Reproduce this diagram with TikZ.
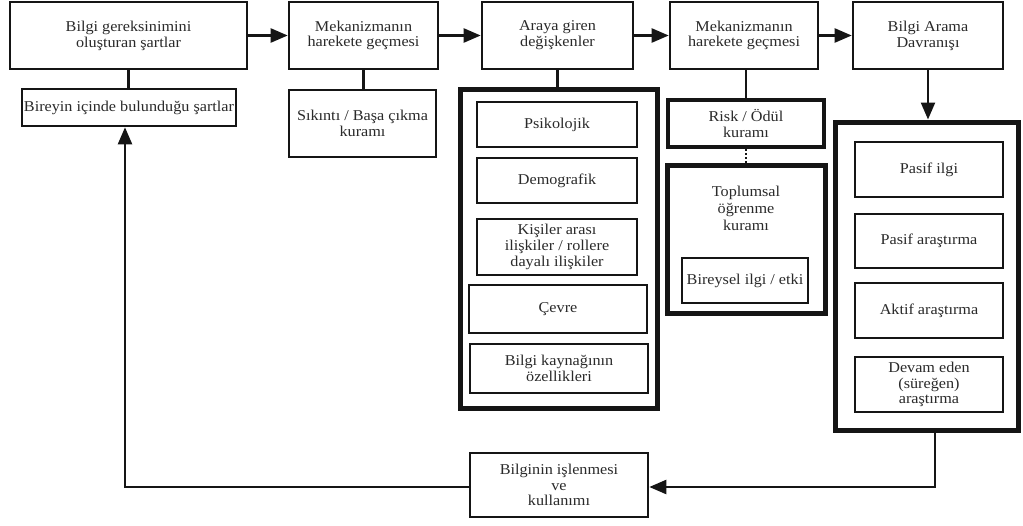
\documentclass[tikz,border=0pt]{standalone}
\usepackage{fontspec}
\setmainfont{Liberation Serif}[FakeStretch=1.08]
\usetikzlibrary{arrows.meta,positioning}
\definecolor{ink}{HTML}{151515}
\definecolor{txt}{HTML}{2A2A2A}
\tikzset{
  box/.style={draw=ink, line width=2.6pt, fill=white, inner sep=1pt, align=center,
    text=txt, font=\fontsize{15}{15.8}\selectfont},
  heavybox/.style={box, line width=5pt},
  midbox/.style={box, line width=4.5pt},
  link/.style={draw=ink, line width=2.3pt},
  flow/.style={link, -{Triangle[length=17pt,width=14pt]}},
}
\begin{document}
\begin{tikzpicture}[x=1pt,y=-1pt]
\useasboundingbox (0,0) rectangle (1023,525);

% top row: main stages
\node[box, minimum width=237, minimum height=67] (need) at (128.5,35.5) {Bilgi gereksinimini\\oluşturan şartlar};
\node[box, minimum width=149, minimum height=67] (mech1) at (363.5,35.5) {Mekanizmanın\\harekete geçmesi};
\node[box, minimum width=151, minimum height=67] (vars) at (557.5,35.5) {Araya giren\\değişkenler};
\node[box, minimum width=148, minimum height=67] (mech2) at (744,35.5) {Mekanizmanın\\harekete geçmesi};
\node[box, minimum width=150, minimum height=67] (seek) at (928,35.5) {Bilgi Arama\\Davranışı};

% context and theory boxes below the stages
\node[box, minimum width=214, minimum height=37] (ctx) at (129,107.5) {Bireyin içinde bulunduğu şartlar};
\node[box, minimum width=147, minimum height=67] (stress) at (362.5,123.5) {Sıkıntı / Başa çıkma\\kuramı};

% intervening variables group
\node[heavybox, minimum width=197, minimum height=319] (grpvars) at (558.5,248.5) {};
\node[box, minimum width=160, minimum height=45] (psy) at (557,124.5) {Psikolojik};
\node[box, minimum width=160, minimum height=45] (demo) at (557,180.5) {Demografik};
\node[box, minimum width=160, minimum height=56] (inter) at (557,247) {Kişiler arası\\ilişkiler / rollere\\dayalı ilişkiler};
\node[box, minimum width=178, minimum height=48] (env) at (558,309) {Çevre};
\node[box, minimum width=178, minimum height=49] (src) at (559,368.5) {Bilgi kaynağının\\özellikleri};

% risk/reward and social learning theories
\node[midbox, minimum width=156, minimum height=47] (risk) at (746,123.5) {Risk / Ödül\\kuramı};
\node[heavybox, minimum width=158, minimum height=148] (social) at (746,239) {};
\node[align=center, text=txt, font=\fontsize{15}{17}\selectfont] (sociallbl) at (746,208) {Toplumsal\\öğrenme\\kuramı};
\node[box, minimum width=126, minimum height=45] (indiv) at (745,280.5) {Bireysel ilgi / etki};

% information seeking modes
\node[heavybox, minimum width=183, minimum height=308] (grpseek) at (926.5,276) {};
\node[box, minimum width=148, minimum height=55] (pasilgi) at (929,169.5) {Pasif ilgi};
\node[box, minimum width=148, minimum height=54] (pasar) at (929,241) {Pasif araştırma};
\node[box, minimum width=148, minimum height=55] (aktif) at (929,310.5) {Aktif araştırma};
\node[box, minimum width=148, minimum height=55] (devam) at (929,384.5) {Devam eden\\(süreğen)\\araştırma};

% processing and use
\node[box, minimum width=178, minimum height=64] (proc) at (559,485) {Bilginin işlenmesi\\ve\\kullanımı};

% main flow
\draw[flow] (need) -- (mech1);
\draw[flow] (mech1) -- (vars);
\draw[flow] (vars) -- (mech2);
\draw[flow] (mech2) -- (seek);

% attachments (vertical stems)
\draw[link] (need.south) -- (need.south |- ctx.north);
\draw[link] (mech1.south) -- (mech1.south |- stress.north);
\draw[link] (vars.south) -- (vars.south |- grpvars.north);
\draw[link] (risk.north |- mech2.south) -- (risk.north);
\draw[draw=ink, line width=2.4pt, dash pattern=on 2pt off 2pt] (risk.south) -- (social.north);
\draw[flow] (seek.south) -- (seek.south |- grpseek.north);

% feedback loop
\coordinate (dn) at (935,487);
\coordinate (lf) at (125,487);
\draw[flow] (grpseek.south -| dn) -- (dn) -- (proc.east |- dn);
\draw[flow] (proc.west |- lf) -- (lf) -- (lf |- ctx.south);
\end{tikzpicture}
\end{document}
